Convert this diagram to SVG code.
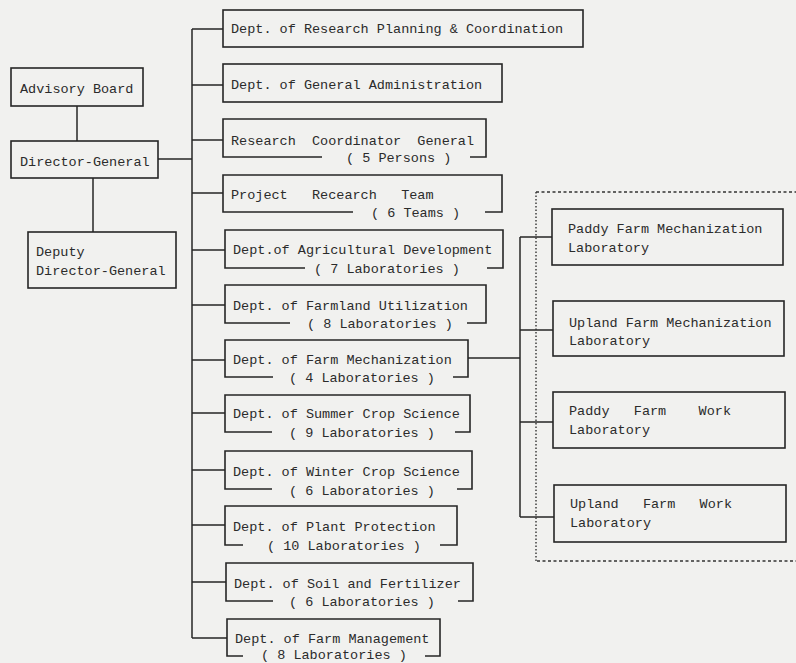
<svg xmlns="http://www.w3.org/2000/svg" width="796" height="663" viewBox="0 0 796 663">
<style>
.bg{fill:#f1f1ef}
.box{fill:none;stroke:#262626;stroke-width:1.6}
.ln{fill:none;stroke:#262626;stroke-width:1.5}
.dash{fill:none;stroke:#333;stroke-width:1.4;stroke-dasharray:3 2.5}
.dot{fill:none;stroke:#333;stroke-width:1.4;stroke-dasharray:1.5 2}
text{font-family:"Liberation Mono","DejaVu Sans Mono",monospace;font-size:13.5px;fill:#2b2b2b;white-space:pre}
</style>
<rect class="bg" x="0" y="0" width="796" height="663"/>

<g id="connectors">
<path class="ln" d="M77,106V141"/>
<path class="ln" d="M93,178V232"/>
<path class="ln" d="M158,159H192"/>
<path class="ln" d="M192,29V638"/>
<path class="ln" d="M192,29H223M192,85H223M192,140H223M192,193H223M192,250H225M192,305H225M192,360H225M192,413H225M192,470H225M192,525H225M192,582H226M192,638H227"/>
<path class="ln" d="M468,358H520"/>
<path class="ln" d="M520,237V517"/>
<path class="ln" d="M520,237H552M520,330H553M520,422H553M520,517H554"/>
</g>

<g id="mechanization-labs-boundary">
<path class="dash" d="M536,192H800M537,561H800"/>
<path class="dot" d="M536,192V561"/>
</g>

<g id="advisory-board">
<rect class="box" x="11" y="68" width="132" height="38"/>
<text x="20" y="93">Advisory Board</text>
</g>
<g id="director-general">
<rect class="box" x="11" y="141" width="147" height="37"/>
<text x="20" y="166">Director-General</text>
</g>
<g id="deputy-director-general">
<rect class="box" x="28" y="232" width="148" height="56"/>
<text x="36" y="256">Deputy</text>
<text x="36" y="275">Director-General</text>
</g>

<g id="dept-research-planning">
<rect class="box" x="223" y="10" width="360" height="37"/>
<text x="231" y="33">Dept. of Research Planning &amp; Coordination</text>
</g>
<g id="dept-general-administration">
<rect class="box" x="223" y="64" width="279" height="38"/>
<text x="231" y="89">Dept. of General Administration</text>
</g>
<g id="research-coordinator-general">
<path class="box" d="M322,157H223V119H486V157H470"/>
<text x="231" y="145">Research  Coordinator  General</text>
<text x="346" y="162">( 5 Persons )</text>
</g>
<g id="project-research-team">
<path class="box" d="M353,212H223V175H502V212H485"/>
<text x="231" y="199">Project   Recearch   Team</text>
<text x="371" y="217">( 6 Teams )</text>
</g>
<g id="dept-agricultural-development">
<path class="box" d="M305,268H225V230H503V268H487"/>
<text x="233" y="254">Dept.of Agricultural Development</text>
<text x="314" y="273">( 7 Laboratories )</text>
</g>
<g id="dept-farmland-utilization">
<path class="box" d="M290,323H225V285H486V323H467"/>
<text x="233" y="310">Dept. of Farmland Utilization</text>
<text x="307" y="328">( 8 Laboratories )</text>
</g>
<g id="dept-farm-mechanization">
<path class="box" d="M273,377H225V340H468V377H453"/>
<text x="233" y="364">Dept. of Farm Mechanization</text>
<text x="289" y="382">( 4 Laboratories )</text>
</g>
<g id="dept-summer-crop-science">
<path class="box" d="M272,432H225V395H470V432H455"/>
<text x="233" y="418">Dept. of Summer Crop Science</text>
<text x="289" y="437">( 9 Laboratories )</text>
</g>
<g id="dept-winter-crop-science">
<path class="box" d="M272,489H225V451H472V489H457"/>
<text x="233" y="476">Dept. of Winter Crop Science</text>
<text x="289" y="495">( 6 Laboratories )</text>
</g>
<g id="dept-plant-protection">
<path class="box" d="M243,545H225V506H457V545H440"/>
<text x="233" y="531">Dept. of Plant Protection</text>
<text x="267" y="550">( 10 Laboratories )</text>
</g>
<g id="dept-soil-fertilizer">
<path class="box" d="M273,601H226V563H473V601H458"/>
<text x="234" y="588">Dept. of Soil and Fertilizer</text>
<text x="289" y="606">( 6 Laboratories )</text>
</g>
<g id="dept-farm-management">
<path class="box" d="M243,656H227V619H440V656H425"/>
<text x="235" y="643">Dept. of Farm Management</text>
<text x="261" y="659">( 8 Laboratories )</text>
</g>

<g id="paddy-farm-mechanization-lab">
<rect class="box" x="552" y="209" width="231" height="56"/>
<text x="568" y="233">Paddy Farm Mechanization</text>
<text x="568" y="252">Laboratory</text>
</g>
<g id="upland-farm-mechanization-lab">
<rect class="box" x="553" y="301" width="231" height="55"/>
<text x="569" y="327">Upland Farm Mechanization</text>
<text x="569" y="345">Laboratory</text>
</g>
<g id="paddy-farm-work-lab">
<rect class="box" x="553" y="392" width="232" height="56"/>
<text x="569" y="415">Paddy   Farm    Work</text>
<text x="569" y="434">Laboratory</text>
</g>
<g id="upland-farm-work-lab">
<rect class="box" x="554" y="485" width="232" height="57"/>
<text x="570" y="508">Upland   Farm   Work</text>
<text x="570" y="527">Laboratory</text>
</g>
</svg>
